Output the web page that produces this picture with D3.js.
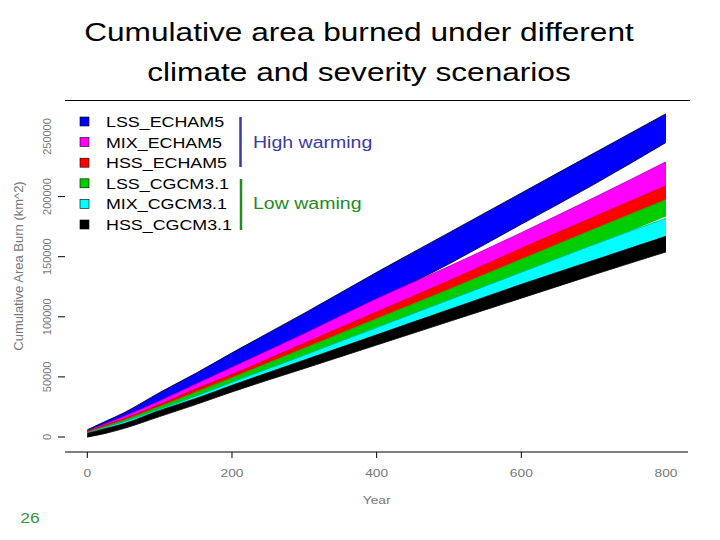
<!DOCTYPE html>
<html>
<head>
<meta charset="utf-8">
<script src="https://cdn.jsdelivr.net/npm/d3@7"></script>
<style>
  body { margin: 0; background: #fff; }
  svg { display: block; }
  text { font-family: "Liberation Sans", Arial, sans-serif; }
</style>
</head>
<body>
<svg id="chart" width="720" height="540"></svg>
<script>
const years = [0, 25, 50, 100, 150, 200, 300, 400, 500, 600, 700, 800];

// envelope of the simulation runs (km^2), low and high edge per scenario
const lssEchamHi = [6000, 13000, 20000, 37000, 53000, 70000, 103000, 137000, 170000, 203000, 236000, 269000];
const lssEchamLo = [0, 5000, 11000, 26000, 40000, 55000, 83000, 113000, 144000, 177000, 210000, 245000];
const mixEchamHi = [5000, 11000, 17000, 30000, 44000, 58000, 86000, 115000, 142000, 170000, 199000, 229000];
const mixEchamLo = [0, 6000, 12000, 24000, 37000, 49000, 75000, 101000, 127000, 154000, 180000, 206000];
const hssEchamHi = [4500, 10000, 15000, 27000, 40000, 52000, 78000, 104000, 130000, 157000, 183000, 209000];
const hssEchamLo = [0, 5500, 11000, 22500, 34500, 46500, 71000, 95500, 120000, 145000, 170000, 194500];
const lssCgcmHi = [4000, 9000, 14000, 25500, 37500, 49500, 74000, 98500, 123000, 148000, 173000, 197500];
const lssCgcmLo = [0, 5500, 10500, 21000, 32000, 43500, 66000, 89000, 112000, 135000, 159000, 183500];
const mixCgcmHi = [3500, 8000, 12500, 23000, 34000, 45500, 68000, 91000, 114000, 137000, 160000, 182000];
const mixCgcmLo = [0, 3500, 8000, 19000, 29000, 40000, 61000, 82000, 103000, 124000, 144000, 164000];
const hssCgcmHi = [3000, 7000, 11000, 22000, 32000, 43000, 64000, 85000, 106000, 127000, 147000, 167000];
const hssCgcmLo = [0, 3000, 7000, 17000, 27000, 37500, 57000, 76500, 96000, 115500, 135000, 154000];

const scenarioNames = ['LSS_ECHAM5', 'MIX_ECHAM5', 'HSS_ECHAM5', 'LSS_CGCM3.1', 'MIX_CGCM3.1', 'HSS_CGCM3.1'];
const scenarioColors = ['#0000ff', '#ff00ff', '#ff0000', '#00cd00', '#00ffff', '#000000'];
const edgeColors = ['#000000', '#b000b0', '#c00000', '#6a7a00', '#00b0b0', '#000000'];
const lows = [lssEchamLo, mixEchamLo, hssEchamLo, lssCgcmLo, mixCgcmLo, hssCgcmLo];
const highs = [lssEchamHi, mixEchamHi, hssEchamHi, lssCgcmHi, mixCgcmHi, hssCgcmHi];

const xTicks = [0, 200, 400, 600, 800];
const yTicks = [0, 50000, 100000, 150000, 200000, 250000];

const svg = d3.select('#chart');

// widen a text horizontally like the stretched original
function stretch(sel, f) {
  sel.each(function () {
    const w = this.getComputedTextLength();
    d3.select(this).attr('textLength', w * (f || 1.25)).attr('lengthAdjust', 'spacingAndGlyphs');
  });
}

// title
const titleLines = ['Cumulative area burned under different', 'climate and severity scenarios'];
svg.selectAll('.title')
  .data(titleLines)
  .join('text')
  .attr('class', 'title')
  .attr('x', 359)
  .attr('y', (d, i) => 41 + i * 40)
  .attr('text-anchor', 'middle')
  .style('font-size', '25.5px')
  .attr('fill', '#000')
  .text(d => d)
  .call(stretch, 1.24);

const x = d3.scaleLinear().domain([0, 800]).range([87.3, 666]);
const y = d3.scaleLinear().domain([0, 250000]).range([437, 136.5]);

// frame line at the top
svg.append('line').attr('x1', 65).attr('x2', 690).attr('y1', 100.5).attr('y2', 100.5)
  .attr('stroke', '#000').attr('stroke-width', 1);

// bands
const area = d3.area()
  .x(d => x(d.yr))
  .y0(d => y(d.lo))
  .y1(d => y(d.hi))
  .curve(d3.curveMonotoneX);
const topLine = d3.line().x(d => x(d.yr)).y(d => y(d.hi)).curve(d3.curveMonotoneX);
const bottomLine = d3.line().x(d => x(d.yr)).y(d => y(d.lo)).curve(d3.curveMonotoneX);

const bands = scenarioNames.map((name, k) => ({
  name,
  color: scenarioColors[k],
  edge: edgeColors[k],
  pts: years.map((yr, i) => ({ yr, lo: lows[k][i], hi: highs[k][i] }))
}));

const gBands = svg.append('g');
bands.forEach((b, k) => {
  gBands.append('path').attr('d', area(b.pts)).attr('fill', b.color);
  gBands.append('path').attr('d', topLine(b.pts))
    .attr('fill', 'none').attr('stroke', b.edge).attr('stroke-width', 0.8);
  if (k === 0 || k === bands.length - 1) {
    gBands.append('path').attr('d', bottomLine(b.pts))
      .attr('fill', 'none').attr('stroke', b.edge).attr('stroke-width', 0.8);
  }
});

// x axis
const gx = svg.append('g');
gx.append('line').attr('x1', 65).attr('x2', 688).attr('y1', 452).attr('y2', 452)
  .attr('stroke', '#000');
gx.selectAll('.xtick')
  .data(xTicks.filter(d => d < 800))
  .join('line')
  .attr('x1', d => x(d)).attr('x2', d => x(d))
  .attr('y1', 452).attr('y2', 458)
  .attr('stroke', '#000');
gx.selectAll('.xlab')
  .data(xTicks)
  .join('text')
  .attr('x', d => x(d))
  .attr('y', 477)
  .attr('text-anchor', 'middle')
  .style('font-size', '11px')
  .attr('fill', '#777')
  .text(d => d)
  .call(stretch);
gx.append('text')
  .attr('x', x(400)).attr('y', 504)
  .attr('text-anchor', 'middle')
  .style('font-size', '11px')
  .attr('fill', '#777')
  .text('Year')
  .call(stretch);

// y axis (ticks only)
const gy = svg.append('g');
gy.selectAll('line')
  .data(yTicks.filter(d => d < 250000))
  .join('line')
  .attr('x1', 58).attr('x2', 65)
  .attr('y1', d => y(d)).attr('y2', d => y(d))
  .attr('stroke', '#000');
gy.selectAll('text')
  .data(yTicks)
  .join('text')
  .attr('transform', d => `translate(51,${y(d)}) rotate(-90)`)
  .attr('text-anchor', 'middle')
  .style('font-size', '11px')
  .attr('fill', '#777')
  .text(d => d);
svg.append('text')
  .attr('transform', 'translate(23,266) rotate(-90)')
  .attr('text-anchor', 'middle')
  .style('font-size', '13px')
  .attr('fill', '#777')
  .text('Cumulative Area Burn (km^2)');

// legend
const legend = svg.append('g');
const rowY = i => 121.5 + i * 20.6;
legend.selectAll('rect')
  .data(scenarioNames)
  .join('rect')
  .attr('x', 80).attr('y', (d, i) => rowY(i) - 4.5)
  .attr('width', 9).attr('height', 9)
  .attr('fill', (d, i) => scenarioColors[i])
  .attr('stroke', '#000').attr('stroke-width', 0.6);
legend.selectAll('text')
  .data(scenarioNames)
  .join('text')
  .attr('x', 106).attr('y', (d, i) => rowY(i) + 5.4)
  .style('font-size', '15px')
  .attr('fill', '#000')
  .text(d => d)
  .call(stretch, 1.19);

// warming groups
svg.append('line').attr('x1', 240.5).attr('x2', 240.5).attr('y1', 117).attr('y2', 167)
  .attr('stroke', '#3a3aa0').attr('stroke-width', 2.5);
svg.append('line').attr('x1', 241).attr('x2', 241).attr('y1', 179).attr('y2', 230)
  .attr('stroke', '#228b22').attr('stroke-width', 2.5);
svg.append('text').attr('x', 253).attr('y', 148)
  .style('font-size', '16px').attr('fill', '#3a3aa0')
  .text('High warming').call(stretch, 1.22);
svg.append('text').attr('x', 253).attr('y', 209)
  .style('font-size', '16px').attr('fill', '#228b22')
  .text('Low waming').call(stretch, 1.22);

// slide number
svg.append('text').attr('x', 30).attr('y', 523)
  .attr('text-anchor', 'middle')
  .style('font-size', '14px').attr('fill', '#339933')
  .text('26').call(stretch);
</script>
</body>
</html>
